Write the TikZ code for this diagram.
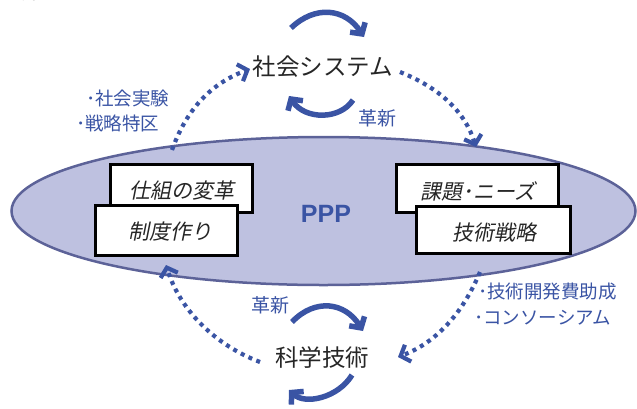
\documentclass[tikz,border=0pt]{standalone}
\usepackage{fontspec}
\setmainfont{Liberation Sans}
\newfontfamily\jp{Noto Sans CJK JP}
\newfontfamily\jpsl[FakeSlant=0.2]{Noto Sans CJK JP}
\usetikzlibrary{arrows.meta}
\definecolor{pblue}{RGB}{58,84,164}
\definecolor{ellfill}{RGB}{190,193,224}
\definecolor{elldraw}{RGB}{92,98,152}
\tikzset{
  boxnode/.style={draw=black,line width=3pt,fill=white,inner sep=0pt},
  boxtext/.style={font=\jpsl\fontsize{21}{23}\selectfont,text=black!85},
  bluelabel/.style={font=\jp\fontsize{18.5}{20}\selectfont,text=pblue,anchor=west,inner sep=0pt},
  kakushin/.style={font=\jp\fontsize{19}{21}\selectfont,text=pblue},
  bigtext/.style={font=\jp\fontsize{23.5}{26}\selectfont,text=black!85},
  dotarrow/.style={pblue,line width=4.2pt,dash pattern=on 4pt off 4.5pt,-{Straight Barb[length=8pt,width=18pt,line width=4.2pt]}},
  cycarrow/.style={pblue,line width=5.5pt,-{Straight Barb[length=8pt,width=18pt,line width=5.5pt]}},
}
\begin{document}
\begin{tikzpicture}[x=1pt,y=-1pt]
\useasboundingbox (0,0) rectangle (637,408);
% fragment at top
\node[font=\jp\fontsize{20}{22}\selectfont,text=black!80] (frag) at (30,-8) {く。};
% ellipse
\draw[fill=ellfill,draw=elldraw,line width=2.5pt] (323.5,211) ellipse [x radius=312, y radius=74];
\node[font=\bfseries\fontsize{25}{28}\selectfont,text=pblue] (ppp) at (326,214) {PPP};
% boxes
\node[boxnode,minimum width=142pt,minimum height=48pt] (b1) at (181,188) {};
\node[boxtext] at (182,191) {仕組の変革};
\node[boxnode,minimum width=142pt,minimum height=50pt] (b2) at (166,230) {};
\node[boxtext] at (170,232) {制度作り};
\node[boxnode,minimum width=162pt,minimum height=48pt] (b3) at (477,188) {};
\node[boxtext] at (478,191) {課題･ニーズ};
\node[boxnode,minimum width=154pt,minimum height=47pt] (b4) at (493,229.5) {};
\node[boxtext] at (494,232) {技術戦略};
% main texts
\node[bigtext] (soc) at (323,67) {社会システム};
\node[bigtext] (sci) at (322,358) {科学技術};
% blue labels
\node[bluelabel] (l1) at (86,98) {･社会実験};
\node[bluelabel] (l2) at (76,123) {･戦略特区};
\node[bluelabel] (l3) at (478,292) {･技術開発費助成};
\node[bluelabel] (l4) at (474,318) {･コンソーシアム};
\node[kakushin] (k1) at (377,118) {革新};
\node[kakushin] (k2) at (270,305) {革新};
% dotted connectors
\coordinate (d1s) at (172,150);
\coordinate (d1e) at (250,69);
\draw[dotarrow] (d1s) .. controls (188,105) and (215,82) .. (d1e);
\coordinate (d2s) at (400,72);
\coordinate (d2e) at (476,147);
\draw[dotarrow] (d2s) .. controls (440,88) and (465,112) .. (d2e);
\coordinate (d3s) at (480,272);
\coordinate (d3e) at (398,357);
\draw[dotarrow] (d3s) .. controls (462,315) and (435,343) .. (d3e);
\coordinate (d4s) at (260,362);
\coordinate (d4e) at (166,265);
\draw[dotarrow] (d4s) .. controls (215,345) and (180,310) .. (d4e);
% cycle arrows
\coordinate (c1s) at (291,28);
\coordinate (c1e) at (364,37);
\draw[cycarrow] (c1s) .. controls (315,5) and (345,8) .. (c1e);
\coordinate (c2s) at (353,100);
\coordinate (c2e) at (289,96);
\draw[cycarrow] (c2s) .. controls (340,120) and (305,120) .. (c2e);
\coordinate (c3s) at (292,322);
\coordinate (c3e) at (363,331);
\draw[cycarrow] (c3s) .. controls (315,298) and (345,302) .. (c3e);
\coordinate (c4s) at (352,375);
\coordinate (c4e) at (289,390);
\draw[cycarrow] (c4s) .. controls (338,398) and (305,405) .. (c4e);
\end{tikzpicture}
\end{document}
